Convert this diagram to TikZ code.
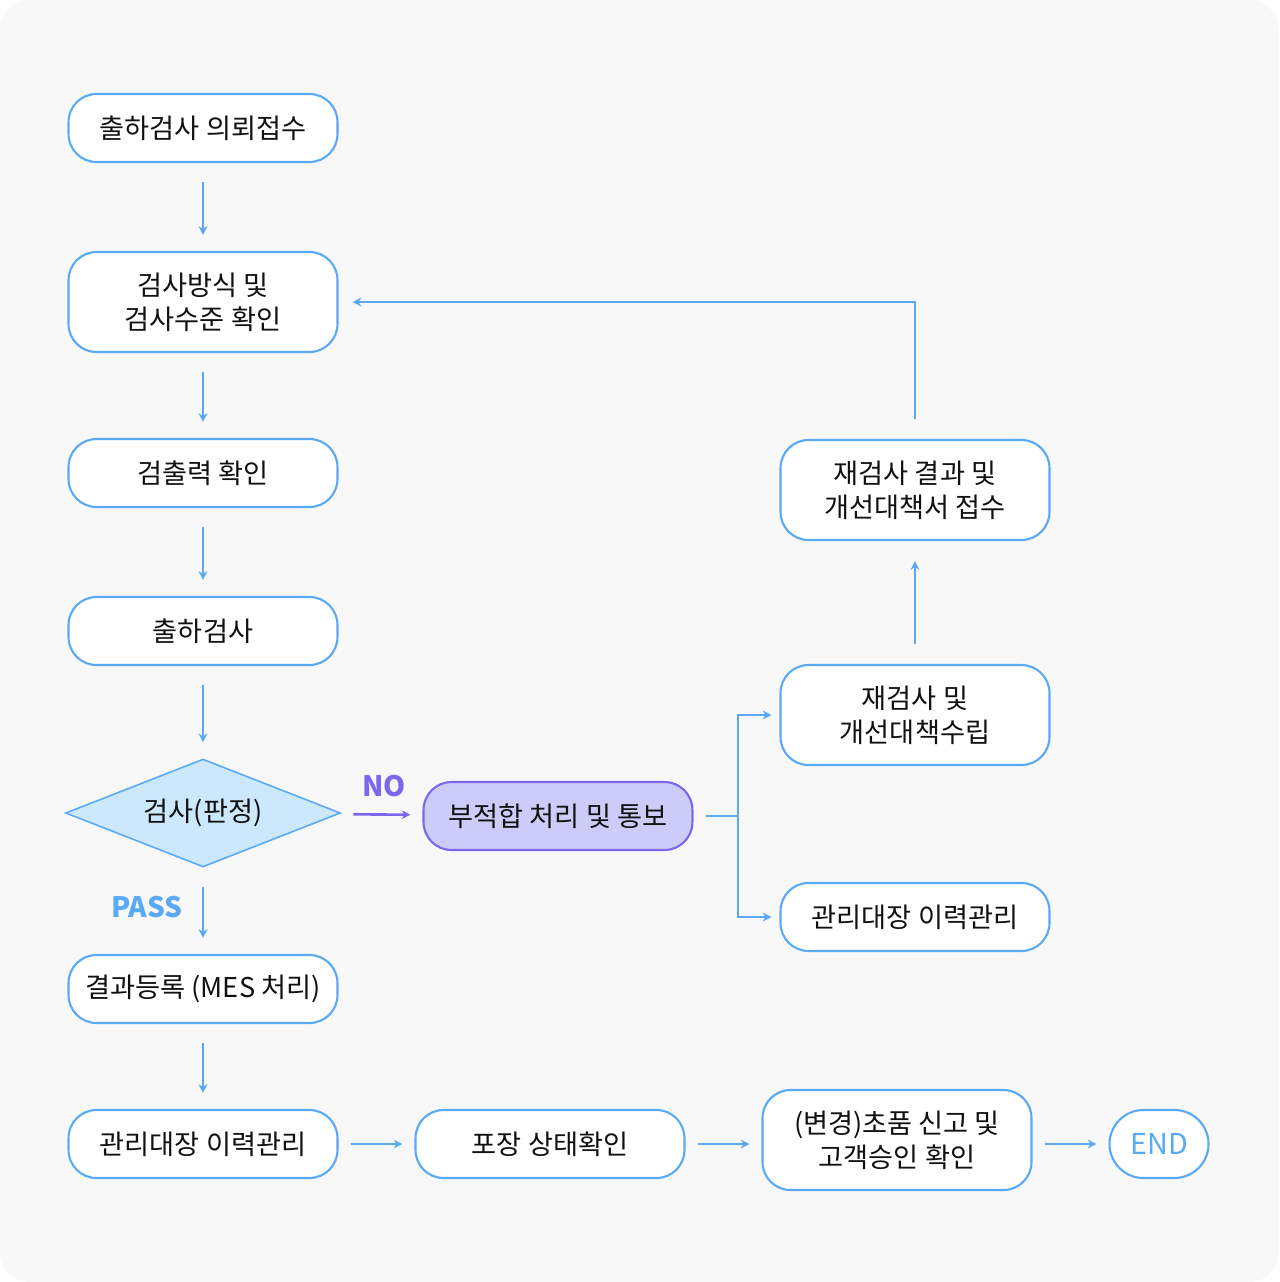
\documentclass[tikz,border=0pt]{standalone}
\usepackage{fontspec}
\setmainfont{Noto Sans CJK KR}
\usepackage{tikz}
\usetikzlibrary{arrows.meta,shapes.geometric}

\definecolor{lineblue}{HTML}{5AA9F7}
\definecolor{diafill}{HTML}{CCE8FC}
\definecolor{ngfill}{HTML}{CDCCF9}
\definecolor{ngline}{HTML}{7A67EE}
\definecolor{bgcol}{HTML}{F8F8F8}
\definecolor{txt}{HTML}{111111}

\tikzset{
 stepbox/.style={draw=lineblue, line width=1.2pt, fill=white, rounded corners=0.56cm,
   minimum width=5.38cm, minimum height=1.36cm, align=center, text=txt,
   font=\fontsize{15.5}{19.4}\selectfont},
 tallbox/.style={stepbox, minimum height=2cm},
 judge/.style={diamond, draw=lineblue, line width=0.9pt, fill=diafill, aspect=2.55,
   minimum width=5.5cm, minimum height=2.16cm, inner sep=0pt, text=txt,
   font=\fontsize{15.5}{19.4}\selectfont},
 ngbox/.style={stepbox, draw=ngline, fill=ngfill},
 endbox/.style={stepbox, rounded corners=0.68cm, minimum width=1.98cm, text=lineblue,
   font=\fontsize{16.4}{19.4}\selectfont},
 arr/.style={draw=lineblue, line width=1.5pt, -{Stealth[length=5pt,width=5pt]}},
 vgap/.style={shorten <=0.38cm, shorten >=0.32cm},
 hgap/.style={shorten <=0.24cm, shorten >=0.24cm},
 tag/.style={font=\fontsize{16}{19}\selectfont\bfseries}
}

\begin{document}
\begin{tikzpicture}[x=0.02cm,y=-0.02cm]
 \useasboundingbox (0,0) rectangle (1279,1282);
 \fill[bgcol, rounded corners=0.6cm] (0,0) rectangle (1279,1282);

 % main column
 \node[stepbox] (req) at (203,128) {출하검사 의뢰접수};
 \node[tallbox] (method) at (203,302) {검사방식 및\\검사수준 확인};
 \node[stepbox] (power) at (203,473) {검출력 확인};
 \node[stepbox] (insp) at (203,631) {출하검사};
 \node[judge] (judge) at (203,813) {검사(판정)};
 \node[stepbox] (mes) at (203,989) {결과등록 (MES 처리)};
 \node[stepbox] (hist) at (203,1144) {관리대장 이력관리};

 % bottom row
 \node[stepbox] (pack) at (550,1144) {포장 상태확인};
 \node[tallbox] (cust) at (897,1140) {(변경)초품 신고 및\\고객승인 확인};
 \node[endbox] (fin) at (1159,1144) {END};

 % NG branch
 \node[ngbox] (ng) at (558,816) {부적합 처리 및 통보};
 \node[tallbox] (retest) at (915,715) {재검사 및\\개선대책수립};
 \node[stepbox] (nghist) at (915,917) {관리대장 이력관리};
 \node[tallbox] (recv) at (915,490) {재검사 결과 및\\개선대책서 접수};
 \coordinate (split) at (738,816);

 \draw[arr,vgap] (req) -- (method);
 \draw[arr,vgap] (method) -- (power);
 \draw[arr,vgap] (power) -- (insp);
 \draw[arr,vgap] (insp) -- (judge);
 \draw[arr,vgap] (judge) -- (mes);
 \draw[arr,vgap] (mes) -- (hist);
 \draw[arr,hgap] (hist) -- (pack);
 \draw[arr,hgap] (pack.east) -- (pack.east -| cust.west);
 \draw[arr,hgap] (fin.west -| cust.east) -- (fin.west);

 \draw[arr,draw=ngline,hgap,shorten <=0.3cm] (judge) -- (ng);
 \node[tag,text=ngline] (no) at (384,786) {NO};
 \node[tag,text=lineblue] (pass) at (147,907) {PASS};

 \draw[draw=lineblue,line width=1.5pt,shorten <=0.24cm] (ng) -- (split);
 \draw[arr,shorten >=0.16cm] (split) |- (retest.west);
 \draw[arr,shorten >=0.16cm] (split) |- (nghist.west);
 \draw[arr,shorten <=0.4cm,shorten >=0.4cm] (retest) -- (recv);
 \draw[arr,shorten <=0.4cm,shorten >=0.28cm] (recv.north) |- (method.east);
\end{tikzpicture}
\end{document}
